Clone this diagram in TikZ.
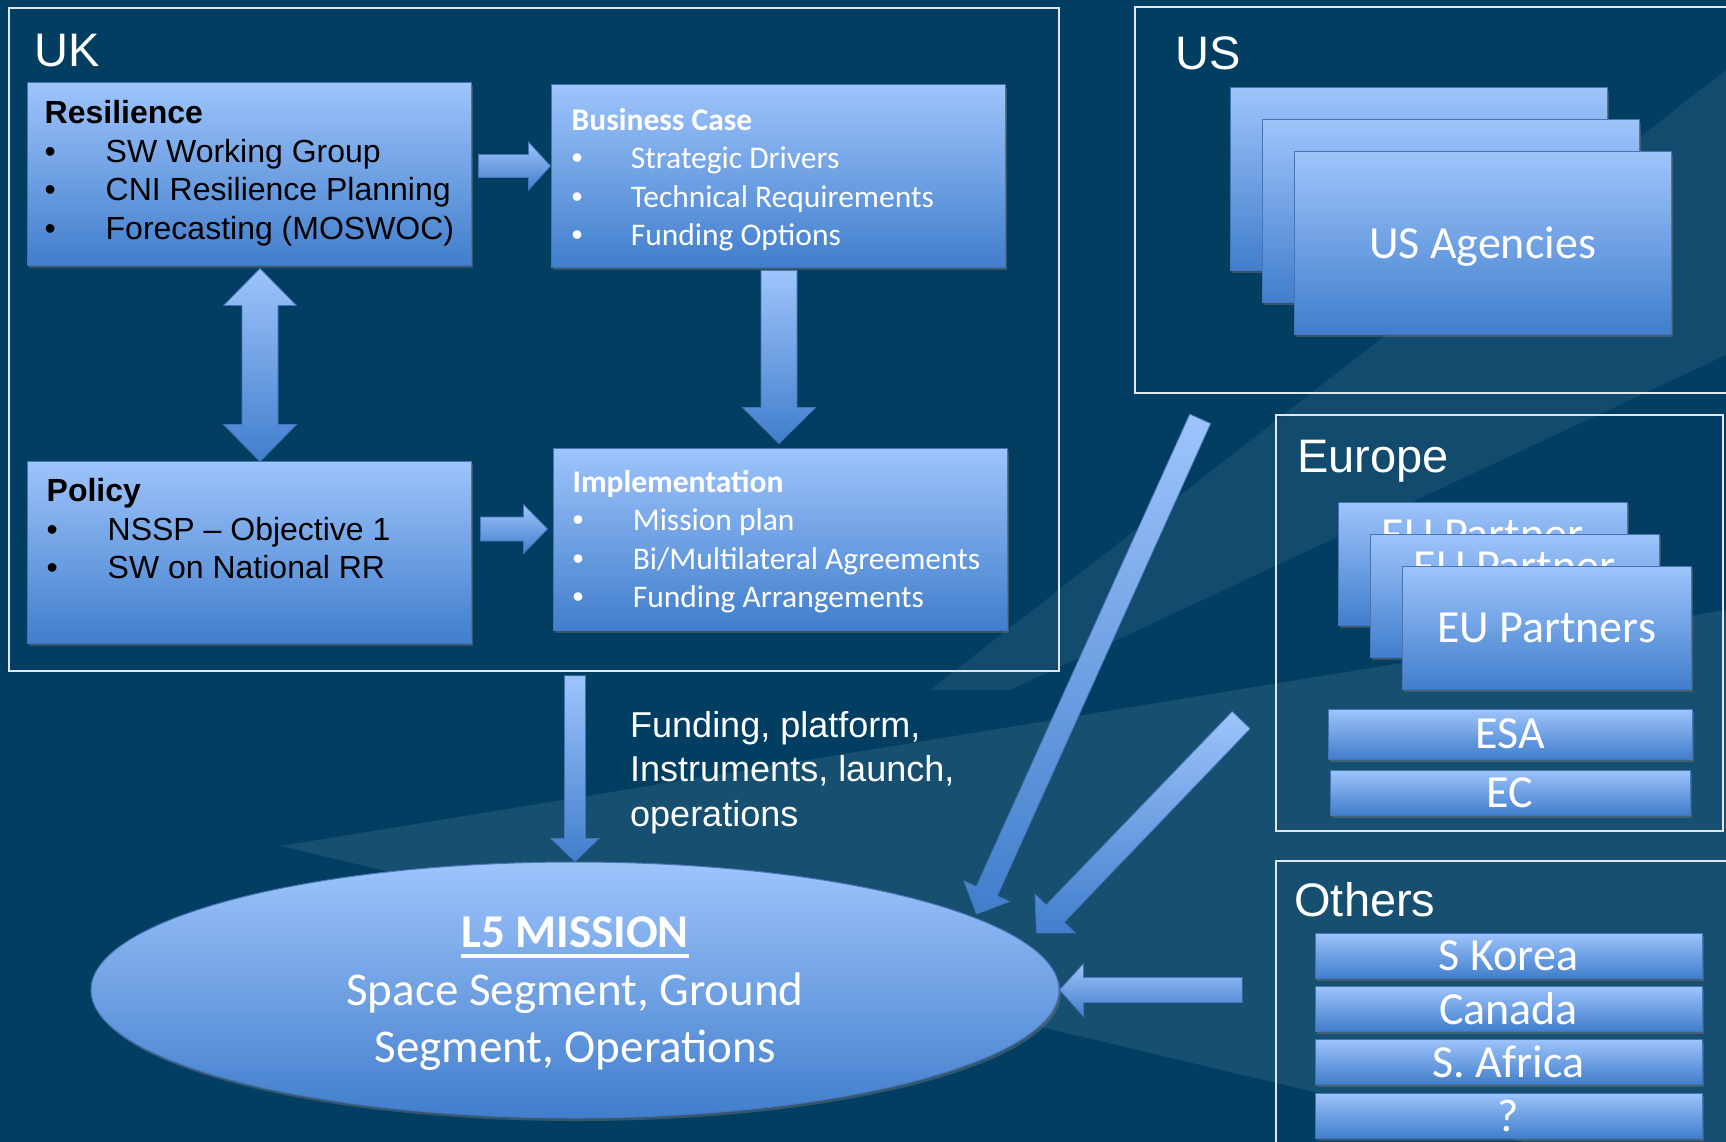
\documentclass[tikz,border=0pt]{standalone}
\usepackage{fontspec}
\setmainfont{Liberation Sans}
\newfontfamily\calibri{Carlito}
\usetikzlibrary{positioning,calc,shapes.geometric,shadows}

\definecolor{navy}{RGB}{1,62,98}
\definecolor{boxtop}{RGB}{158,196,251}
\definecolor{boxbot}{RGB}{65,126,204}
\definecolor{boxline}{RGB}{70,116,182}
\definecolor{frameline}{RGB}{222,230,238}

\newcommand{\bul}[1][61pt]{\makebox[#1][l]{\rmfamily\textbullet}}
\newcommand{\ulbox}[1]{\setbox0\hbox{#1}\rlap{\rule[-10pt]{\wd0}{4pt}}\box0}
% block arrow: tail, tip, half shaft, half head, head length
\newcommand{\blockarrow}[5]{
  \coordinate (hb) at ($(#2)!#5!(#1)$);
  \shadedraw[arrowbody] ($(#1)!#3!90:(#2)$) -- ($(hb)!#3!90:(#2)$) -- ($(hb)!#4!90:(#2)$) -- (#2)
    -- ($(hb)!#4!-90:(#2)$) -- ($(hb)!#3!-90:(#2)$) -- ($(#1)!#3!-90:(#2)$) -- cycle;
}
% same, with a head at both ends
\newcommand{\twowayarrow}[5]{
  \coordinate (ha) at ($(#1)!#5!(#2)$);
  \coordinate (hb) at ($(#2)!#5!(#1)$);
  \shadedraw[arrowbody] (#1) -- ($(ha)!#4!90:(#2)$) -- ($(ha)!#3!90:(#2)$) -- ($(hb)!#3!90:(#2)$) -- ($(hb)!#4!90:(#2)$) -- (#2)
    -- ($(hb)!#4!-90:(#2)$) -- ($(hb)!#3!-90:(#2)$) -- ($(ha)!#3!-90:(#2)$) -- ($(ha)!#4!-90:(#2)$) -- cycle;
}

\begin{document}
\begin{tikzpicture}[x=1pt,y=-1pt]
\tikzset{
  regionframe/.style={draw=frameline, line width=1.6pt, inner sep=0pt},
  region/.style={text=white, inner sep=0pt, anchor=base west, font=\fontsize{47}{56}\selectfont},
  bluebox/.style={draw=boxline, line width=1pt, top color=boxtop, bottom color=boxbot, inner sep=0pt,
    drop shadow={shadow xshift=2pt, shadow yshift=-3pt, opacity=.4}},
  black text/.style={inner sep=0pt, anchor=north west, align=left, text=black, font=\fontsize{32}{38.5}\selectfont},
  white text/.style={inner sep=0pt, anchor=north west, align=left, text=white, font=\calibri\fontsize{31.5}{38.5}\selectfont},
  agency/.style={text=white, inner sep=0pt, text depth=0pt, font=\calibri\fontsize{46}{56}\selectfont},
  arrowbody/.style={draw=boxline, line width=.8pt, top color=boxtop, bottom color=boxbot},
}
\useasboundingbox (0,0) rectangle (1726,1142);
\clip (0,0) rectangle (1726,1142);
\fill[navy] (0,0) rectangle (1726,1142);
% light streaks in the background
\fill[white, opacity=.09] (281,846) -- (1726,610) -- (1726,1190) -- cycle;
\fill[white, opacity=.07] (1726,70) -- (1726,355) -- (1010,690) -- (930,690) -- cycle;

% region frames
\node[regionframe, minimum width=1050pt, minimum height=663pt] (uk) at (534,339.5) {};
\node[regionframe, minimum width=595pt, minimum height=386pt] (us) at (1432.5,200) {};
\node[regionframe, minimum width=447pt, minimum height=416pt] (europe) at (1499.5,623) {};
\node[regionframe, minimum width=454pt, minimum height=289pt] (others) at (1503,1005.5) {};
\node[region] at ([shift={(26,59)}]uk.north west) {UK};
\node[region] at ([shift={(41,63)}]us.north west) {US};
\node[region] at ([shift={(22,58)}]europe.north west) {Europe};
\node[region] at ([shift={(19,56)}]others.north west) {Others};

% UK boxes
\node[bluebox, minimum width=444pt, minimum height=182pt] (res) at (249,174) {};
\node[bluebox, minimum width=454pt, minimum height=182pt] (bc) at (778,176) {};
\node[bluebox, minimum width=444pt, minimum height=182pt] (pol) at (249,552) {};
\node[bluebox, minimum width=454pt, minimum height=182pt] (imp) at (780,539) {};
\node[black text, below right=18pt and 18pt of res.north west] {\textbf{Resilience}\\
  \bul SW Working Group\\ \bul CNI Resilience Planning\\ \bul Forecasting (MOSWOC)};
\node[black text, below right=18pt and 20pt of pol.north west] {\textbf{Policy}\\
  \bul NSSP -- Objective 1\\ \bul SW on National RR};
\node[white text, below right=23.5pt and 21pt of bc.north west] {\textbf{Business Case}\\
  \bul[52pt] Strategic Drivers\\ \bul[52pt] Technical Requirements\\ \bul[52pt] Funding Options};
\node[white text, below right=22.5pt and 20pt of imp.north west] {\textbf{Implementation}\\
  \bul[53pt] Mission plan\\ \bul[53pt] Bi/Multilateral Agreements\\ \bul[53pt] Funding Arrangements};

% US
\node[bluebox, minimum width=377pt, minimum height=182pt] (usA) at (1418.5,179) {};
\node[bluebox, minimum width=377pt, minimum height=182pt] (usB) at ([shift={(32,32)}]usA) {};
\node[bluebox, agency, minimum width=377pt, minimum height=182pt] (usC) at ([shift={(32,32)}]usB) {US Agencies};

% Europe
\node[bluebox, minimum width=289pt, minimum height=123pt] (euA) at (1482.5,563.5) {};
\node[agency, anchor=north] at ([yshift=-18pt]euA.north) {EU Partner};
\node[bluebox, minimum width=289pt, minimum height=123pt] (euB) at ([shift={(32,32)}]euA) {};
\node[agency, anchor=north] at ([yshift=-18pt]euB.north) {EU Partner};
\node[bluebox, agency, minimum width=289pt, minimum height=123pt] (euC) at ([shift={(32,32)}]euB) {EU Partners};
\node[bluebox, agency, minimum width=364pt, minimum height=50pt] (esa) at (1510,734) {ESA};
\node[bluebox, agency, minimum width=360pt, minimum height=45pt, below=10pt of esa] (ec) {EC};

% others
\node[bluebox, agency, minimum width=387pt, minimum height=45pt] (korea) at (1508.5,955.5) {S Korea};
\node[bluebox, agency, minimum width=387pt, minimum height=45pt, below=7pt of korea] (canada) {Canada};
\node[bluebox, agency, minimum width=387pt, minimum height=45pt, below=7pt of canada] (safrica) {S. Africa};
\node[bluebox, agency, minimum width=387pt, minimum height=45pt, below=8pt of safrica] (unknown) {?};

% the mission
\node[ellipse, bluebox, minimum width=968pt, minimum height=256pt] (mission) at (575,990) {};
\node[agency, align=center, font=\calibri\fontsize{47}{57.5}\selectfont] at (mission.center)
  {\ulbox{\bfseries L5 MISSION}\\ Space Segment, Ground\\ Segment, Operations};
\node[inner sep=0pt, anchor=north west, align=left, text=white, font=\fontsize{36}{44.5}\selectfont] (flow) at (630,711)
  {Funding, platform,\\ Instruments, launch,\\ operations};

% arrows
\coordinate (rb1) at ([shift={(7,-8)}]res.east);
\coordinate (rb2) at (bc.west |- rb1);
\blockarrow{rb1}{rb2}{11.5pt}{24pt}{22pt}
\coordinate (pi1) at ([shift={(9,-23)}]pol.east);
\coordinate (pi2) at ($(imp.west |- pi1)+(-5,0)$);
\blockarrow{pi1}{pi2}{12pt}{24.5pt}{24pt}
\coordinate (rp1) at ($(res.south)+(11,3)$);
\coordinate (rp2) at ($(pol.north)+(11,1)$);
\twowayarrow{rp1}{rp2}{18pt}{36.5pt}{37pt}
\coordinate (bi1) at ($(bc.south)+(1,3)$);
\coordinate (bi2) at ($(imp.north)+(-1,-4)$);
\blockarrow{bi1}{bi2}{18pt}{36.5pt}{36pt}
\coordinate (um1) at ($(uk.south -| mission.north)+(0,4)$);
\blockarrow{um1}{mission.north}{10.5pt}{24pt}{23pt}
\coordinate (usm1) at ($(us.south west)+(66,25)$);
\coordinate (usm2) at ($(mission.east)+(-83,-76)$);
\blockarrow{usm1}{usm2}{11.5pt}{25pt}{25pt}
\coordinate (eum1) at ($(europe.west)+(-34,97)$);
\coordinate (eum2) at ($(mission.east)+(-23,-57)$);
\blockarrow{eum1}{eum2}{12.5pt}{28pt}{27pt}
\coordinate (otm1) at ($(others.west |- mission.east)+(-33,0)$);
\blockarrow{otm1}{mission.east}{12.5pt}{26.5pt}{24pt}
\end{tikzpicture}
\end{document}
